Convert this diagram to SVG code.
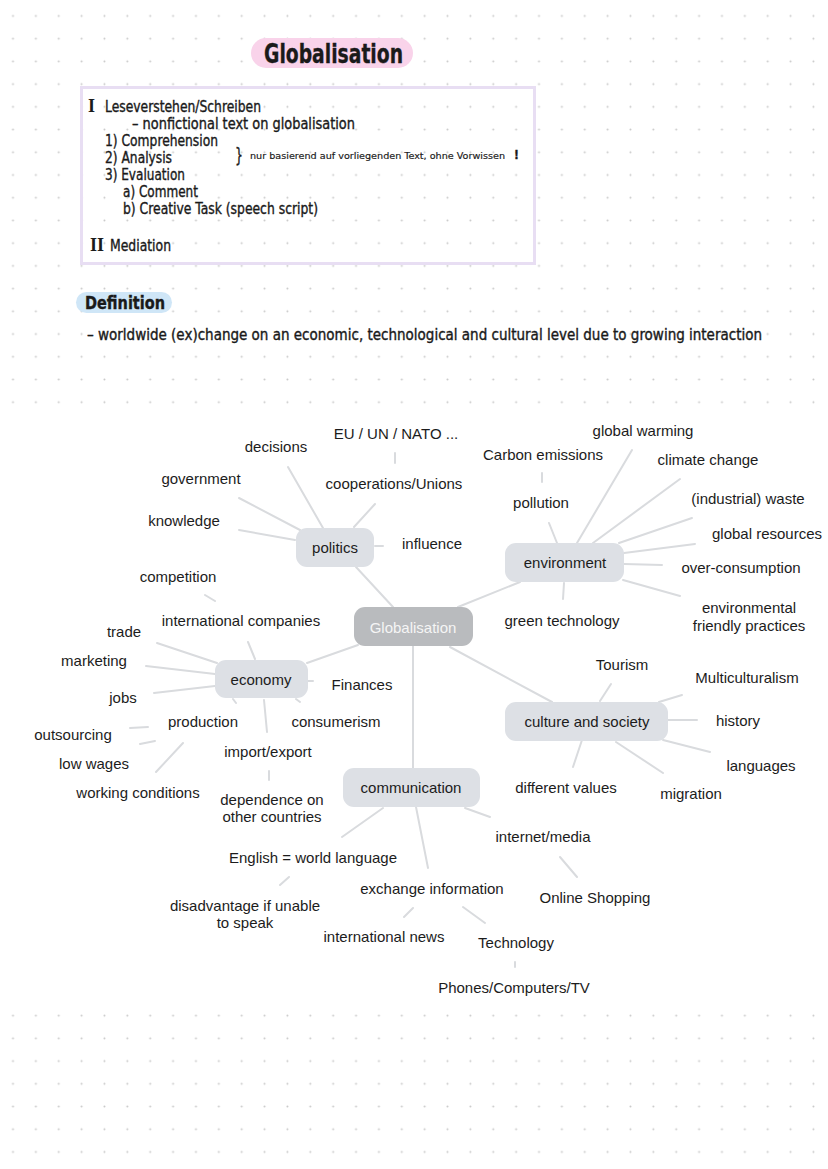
<svg xmlns="http://www.w3.org/2000/svg" width="828" height="1169" viewBox="0 0 828 1169">
<style>
.hw{font-family:"Liberation Sans Narrow","DejaVu Sans Condensed","Open Sans",sans-serif;fill:#1a1a1a;stroke:#1a1a1a;stroke-width:0.35}
.rn{font-family:"Liberation Serif","DejaVu Serif",serif;fill:#1a1a1a;font-weight:bold}
.t{font-family:"Liberation Sans",Arial,sans-serif;font-size:15px;fill:#1c1c1c;text-anchor:middle}
.node rect{fill:#dde0e5}
.c{stroke:#d9dbde;stroke-width:2;fill:none;stroke-linecap:round}
</style>
<defs>
<pattern id="dots" x="1.6" y="4.6" width="22.87" height="22.72" patternUnits="userSpaceOnUse">
<circle cx="11.4" cy="11.4" r="1" fill="#c9c9c9"/>
</pattern>
</defs>
<rect width="828" height="1169" fill="#ffffff"/>
<rect width="828" height="1169" fill="url(#dots)"/>
<rect x="0" y="410" width="828" height="598" fill="#ffffff"/>

<g id="title">
<rect x="251" y="38" width="162" height="30" rx="15" fill="#f9d3ea"/>
<text class="hw" x="264" y="63" font-size="27" font-weight="bold" textLength="139" lengthAdjust="spacingAndGlyphs">Globalisation</text>
</g>

<g id="exam-box">
<rect x="81.5" y="87.5" width="453" height="176" fill="none" stroke="#e8def3" stroke-width="3"/>
<text class="rn" x="88" y="112" font-size="18">I</text>
<text class="hw" x="105" y="112" font-size="15" textLength="156" lengthAdjust="spacingAndGlyphs">Leseverstehen/Schreiben</text>
<text class="hw" x="132" y="129" font-size="15" textLength="223" lengthAdjust="spacingAndGlyphs">– nonfictional text on globalisation</text>
<text class="hw" x="105" y="146" font-size="15" textLength="113" lengthAdjust="spacingAndGlyphs">1) Comprehension</text>
<text class="hw" x="105" y="163" font-size="15" textLength="67" lengthAdjust="spacingAndGlyphs">2) Analysis</text>
<text class="hw" x="105" y="180" font-size="15" textLength="80" lengthAdjust="spacingAndGlyphs">3) Evaluation</text>
<text class="hw" x="123" y="197" font-size="15" textLength="75" lengthAdjust="spacingAndGlyphs">a) Comment</text>
<text class="hw" x="123" y="214" font-size="15" textLength="195" lengthAdjust="spacingAndGlyphs">b) Creative Task (speech script)</text>
<text class="rn" x="90" y="251" font-size="18">II</text>
<text class="hw" x="110" y="251" font-size="15" textLength="61" lengthAdjust="spacingAndGlyphs">Mediation</text>
<text class="hw" x="235" y="162" font-size="20" textLength="8" lengthAdjust="spacingAndGlyphs">}</text>
<text class="hw" x="250" y="159" font-size="9" textLength="255" lengthAdjust="spacingAndGlyphs" style="stroke-width:0.15">nur basierend auf vorliegenden Text, ohne Vorwissen</text>
<text class="hw" x="514" y="159" font-size="12" font-weight="bold">!</text>
</g>

<g id="definition">
<rect x="76" y="292" width="96" height="21" rx="10.5" fill="#cfe6f7"/>
<text class="hw" x="85" y="309" font-size="18" font-weight="bold" textLength="80" lengthAdjust="spacingAndGlyphs">Definition</text>
<text class="hw" x="87" y="340" font-size="15" textLength="675" lengthAdjust="spacingAndGlyphs">– worldwide (ex)change on an economic, technological and cultural level due to growing interaction</text>
</g>

<g id="connectors">
<path class="c" d="M393,607 L356,567 M458,607 L520,582 M358,645 L307,663 M450,647 L552,702 M413,646 L413,768"/>
<path class="c" d="M288,467 L323,528 M239,498 L300,530 M239,530 L295,540 M395,453 L395,463 M375,504 L354,527 M375,546 L383,546 M205,595 L215,601"/>
<path class="c" d="M632,450 L577,543 M542,473 L542,482 M680,479 L593,543 M549,523 L557,543 M692,518 L619,543 M695,544 L624,553 M624,564 L662,565 M623,580 L680,596 M564,583 L563,599"/>
<path class="c" d="M248,642 L255,659 M157,643 L217,663 M146,666 L215,674 M154,693 L215,686 M308,681 L313,681 M233,699 L236,703 M296,699 L300,702 M264,700 L267,732 M269,771 L269,780 M130,728 L148,727 M140,744 L155,741 M156,772 L183,743"/>
<path class="c" d="M600,701 L611,684 M659,702 L682,695 M668,720 L697,720 M663,740 L710,752 M616,742 L663,773 M582,740 L573,767"/>
<path class="c" d="M465,808 L490,817 M560,857 L577,877 M383,808 L342,837 M416,807 L428,868 M280,885 L289,877 M404,917 L413,908 M463,907 L485,923 M515,962 L515,967"/>
</g>

<g id="node-globalisation">
<rect x="354" y="607" width="119" height="39" rx="11" fill="#b9bbbe"/>
<text class="t" x="413" y="633" style="fill:#f5f5f5">Globalisation</text>
</g>
<g id="node-politics" class="node">
<rect x="296" y="528" width="78" height="39" rx="11"/>
<text class="t" x="335" y="553">politics</text>
</g>
<g id="node-environment" class="node">
<rect x="505" y="543" width="119" height="39" rx="11"/>
<text class="t" x="565" y="568">environment</text>
</g>
<g id="node-economy" class="node">
<rect x="215" y="660" width="93" height="38" rx="11"/>
<text class="t" x="261" y="685">economy</text>
</g>
<g id="node-culture" class="node">
<rect x="505" y="702" width="163" height="39" rx="11"/>
<text class="t" x="587" y="727">culture and society</text>
</g>
<g id="node-communication" class="node">
<rect x="343" y="768" width="137" height="39" rx="11"/>
<text class="t" x="411" y="793">communication</text>
</g>

<g id="labels-politics">
<text class="t" x="276" y="452">decisions</text>
<text class="t" x="201" y="484">government</text>
<text class="t" x="184" y="526">knowledge</text>
<text class="t" x="396" y="439">EU / UN / NATO ...</text>
<text class="t" x="394" y="489">cooperations/Unions</text>
<text class="t" x="432" y="549">influence</text>
<text class="t" x="178" y="582">competition</text>
</g>
<g id="labels-environment">
<text class="t" x="643" y="436">global warming</text>
<text class="t" x="543" y="460">Carbon emissions</text>
<text class="t" x="708" y="465">climate change</text>
<text class="t" x="541" y="508">pollution</text>
<text class="t" x="748" y="504">(industrial) waste</text>
<text class="t" x="767" y="539">global resources</text>
<text class="t" x="741" y="573">over-consumption</text>
<text class="t" x="749" y="613">environmental</text>
<text class="t" x="749" y="631">friendly practices</text>
<text class="t" x="562" y="626">green technology</text>
</g>
<g id="labels-economy">
<text class="t" x="241" y="626">international companies</text>
<text class="t" x="124" y="637">trade</text>
<text class="t" x="94" y="666">marketing</text>
<text class="t" x="123" y="703">jobs</text>
<text class="t" x="362" y="690">Finances</text>
<text class="t" x="203" y="727">production</text>
<text class="t" x="336" y="727">consumerism</text>
<text class="t" x="268" y="757">import/export</text>
<text class="t" x="272" y="805">dependence on</text>
<text class="t" x="272" y="822">other countries</text>
<text class="t" x="73" y="740">outsourcing</text>
<text class="t" x="94" y="769">low wages</text>
<text class="t" x="138" y="798">working conditions</text>
</g>
<g id="labels-culture">
<text class="t" x="622" y="670">Tourism</text>
<text class="t" x="747" y="683">Multiculturalism</text>
<text class="t" x="738" y="726">history</text>
<text class="t" x="761" y="771">languages</text>
<text class="t" x="691" y="799">migration</text>
<text class="t" x="566" y="793">different values</text>
</g>
<g id="labels-communication">
<text class="t" x="543" y="842">internet/media</text>
<text class="t" x="595" y="903">Online Shopping</text>
<text class="t" x="313" y="863">English = world language</text>
<text class="t" x="432" y="894">exchange information</text>
<text class="t" x="245" y="911">disadvantage if unable</text>
<text class="t" x="245" y="928">to speak</text>
<text class="t" x="384" y="942">international news</text>
<text class="t" x="516" y="948">Technology</text>
<text class="t" x="514" y="993">Phones/Computers/TV</text>
</g>
</svg>
